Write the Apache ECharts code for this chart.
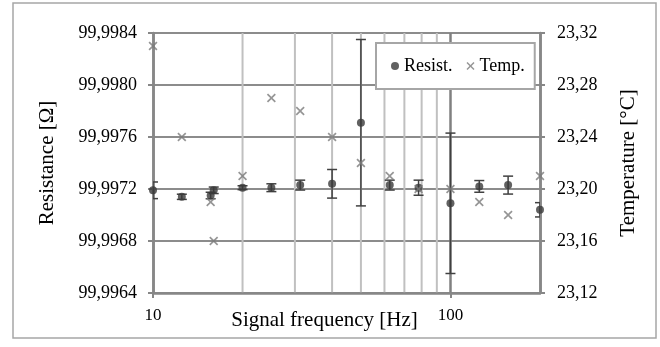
<!DOCTYPE html>
<html>
<head>
<meta charset="utf-8">
<script src="https://cdn.jsdelivr.net/npm/echarts@6/dist/echarts.min.js"></script>
<style>
  html, body { margin: 0; padding: 0; background: #fff; }
  #chart { width: 660px; height: 347px; }
</style>
</head>
<body>
<div id="chart"></div>
<script>
// 测量频率 (Hz)
const freqs = [10, 12.5, 15.625, 16, 20, 25, 31.25, 40, 50, 62.5, 78.125, 100, 125, 156.25, 200];
// 电阻均值 (Ω) 与误差
const resist = [99.99719, 99.99714, 99.99715, 99.99719, 99.99721, 99.99721, 99.99723, 99.99724,
  99.99771, 99.99723, 99.99721, 99.99709, 99.99722, 99.99723, 99.99704];
const resistErr = [0.000064, 0.00002, 0.000025, 0.000025, 0.000015, 0.00003, 0.000038, 0.00011,
  0.00064, 0.000038, 0.000058, 0.00054, 0.000045, 0.000069, 0.000055];
// 温度 (°C)
const temp = [23.31, 23.24, 23.19, 23.16, 23.21, 23.27, 23.26, 23.24, 23.22, 23.21, 23.20, 23.20, 23.19, 23.18, 23.21];
// 次网格线 (Hz)
const minorFreqs = [20, 30, 40, 50, 60, 70, 80, 90];
// 轴范围 [min, max, interval]
const resistAxis = [99.9964, 99.9984, 0.0004];
const tempAxis = [23.12, 23.32, 0.04];

const FONT = 'Liberation Serif';
const AXIS_GREY = '#878787';
const CROSS = 'path://M0,1.3L1.3,0L5,3.7L8.7,0L10,1.3L6.3,5L10,8.7L8.7,10L5,6.3L1.3,10L0,8.7L3.7,5Z';

const chart = echarts.init(document.getElementById('chart'), null, { renderer: 'canvas' });

const errData = freqs.map((f, i) => [f, resist[i], resist[i] - resistErr[i], resist[i] + resistErr[i]]);

const option = {
  animation: false,
  textStyle: { fontFamily: FONT, color: '#000' },
  graphic: [{
    type: 'rect',
    shape: { x: 13, y: 3, width: 643, height: 335 },
    style: { fill: null, stroke: '#a6a6a6', lineWidth: 1.5 },
    silent: true,
  }],
  grid: { left: 153, right: 120, top: 33, bottom: 54, containLabel: false, outerBoundsMode: 'none' },
  legend: {
    data: ['Resist.', 'Temp.'],
    left: 376,
    top: 43,
    padding: [14, 10, 14, 15],
    itemGap: 14,
    itemWidth: 8,
    itemHeight: 8,
    backgroundColor: '#fff',
    borderColor: '#a6a6a6',
    borderWidth: 2,
    textStyle: { fontFamily: FONT, fontSize: 18, color: '#000' },
  },
  xAxis: {
    type: 'log',
    logBase: 10,
    min: 10,
    max: 200,
    name: 'Signal frequency [Hz]',
    nameLocation: 'middle',
    nameGap: 17,
    nameMoveOverlap: false,
    nameTextStyle: { fontFamily: FONT, fontSize: 21, color: '#000', padding: [0, 44, 0, 0] },
    axisLine: { lineStyle: { color: AXIS_GREY, width: 2.5 } },
    axisTick: { show: true, length: 5, lineStyle: { color: AXIS_GREY, width: 2 } },
    axisLabel: { fontFamily: FONT, fontSize: 17, color: '#000', margin: 14, showMaxLabel: false },
    splitLine: { show: true, lineStyle: { color: '#808080', width: 2.5 } },
  },
  yAxis: [{
    type: 'value',
    min: resistAxis[0],
    max: resistAxis[1],
    interval: resistAxis[2],
    name: 'Resistance [Ω]',
    nameLocation: 'middle',
    nameGap: 95,
    nameRotate: 90,
    nameTextStyle: { fontFamily: FONT, fontSize: 21, color: '#000' },
    axisLine: { show: true, lineStyle: { color: AXIS_GREY, width: 2.5 } },
    axisTick: { show: true, length: 5, lineStyle: { color: AXIS_GREY, width: 2 } },
    axisLabel: {
      fontFamily: FONT, fontSize: 18, color: '#000', margin: 16,
      formatter: (v) => v.toFixed(4).replace('.', ','),
    },
    splitLine: { show: true, lineStyle: { color: '#8c8c8c', width: 2 } },
  }, {
    type: 'value',
    position: 'right',
    min: tempAxis[0],
    max: tempAxis[1],
    interval: tempAxis[2],
    name: 'Temperature [°C]',
    nameLocation: 'middle',
    nameGap: 78,
    nameRotate: 90,
    nameTextStyle: { fontFamily: FONT, fontSize: 21, color: '#000' },
    axisLine: { show: true, lineStyle: { color: AXIS_GREY, width: 2.5 } },
    axisTick: { show: true, length: 5, lineStyle: { color: AXIS_GREY, width: 2 } },
    axisLabel: {
      fontFamily: FONT, fontSize: 18, color: '#000', margin: 17,
      formatter: (v) => v.toFixed(2).replace('.', ','),
    },
    splitLine: { show: false },
  }],
  series: [
    {
      // 次网格线（放在最底层）
      type: 'custom',
      z: 0,
      silent: true,
      data: minorFreqs,
      encode: { x: 0 },
      renderItem: (params, api) => {
        const cs = params.coordSys;
        const x = api.coord([api.value(0), resistAxis[0]])[0];
        return {
          type: 'line',
          shape: { x1: x, y1: cs.y, x2: x, y2: cs.y + cs.height },
          style: { stroke: '#c0c0c0', lineWidth: 2 },
        };
      },
    },
    {
      // 误差棒
      type: 'custom',
      clip: true,
      z: 3,
      silent: true,
      data: errData,
      encode: { x: 0, y: [1, 2, 3] },
      renderItem: (params, api) => {
        const x = api.coord([api.value(0), api.value(1)])[0];
        const lo = api.coord([api.value(0), api.value(2)])[1];
        const hi = api.coord([api.value(0), api.value(3)])[1];
        const w = 5;
        const style = { stroke: '#404040', lineWidth: 1.5, fill: null };
        return {
          type: 'group',
          children: [
            { type: 'line', shape: { x1: x, y1: lo, x2: x, y2: hi }, style },
            { type: 'line', shape: { x1: x - w, y1: lo, x2: x + w, y2: lo }, style },
            { type: 'line', shape: { x1: x - w, y1: hi, x2: x + w, y2: hi }, style },
          ],
        };
      },
    },
    {
      name: 'Resist.',
      type: 'scatter',
      z: 4,
      symbol: 'circle',
      symbolSize: 8,
      itemStyle: { color: '#3a3a3a' },
      data: freqs.map((f, i) => [f, resist[i]]),
    },
    {
      name: 'Temp.',
      type: 'scatter',
      yAxisIndex: 1,
      z: 5,
      symbol: CROSS,
      symbolSize: 9,
      itemStyle: { color: '#7a7a7a' },
      data: freqs.map((f, i) => [f, temp[i]]),
    },
  ],
};

chart.setOption(option);
</script>
</body>
</html>
